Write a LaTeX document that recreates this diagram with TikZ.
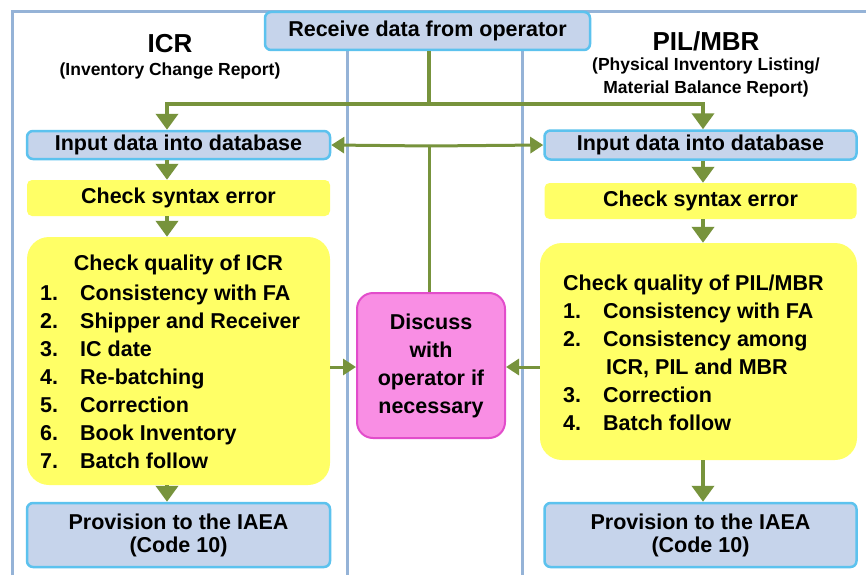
\documentclass[tikz,border=0pt]{standalone}
\usepackage{fontspec}
\setmainfont{Liberation Sans}
\usepackage{xcolor}
\usepackage{tikz}
\usetikzlibrary{arrows.meta,positioning}

\definecolor{framec}{HTML}{95B3D7}
\definecolor{dbfill}{HTML}{C6D4EB}
\definecolor{dbline}{HTML}{5CC2EE}
\definecolor{chkfill}{HTML}{FFFF66}
\definecolor{disfill}{HTML}{F98EE4}
\definecolor{disline}{HTML}{E24DCB}
\definecolor{flowc}{HTML}{77933C}

\newcommand{\txt}{\fontsize{21.5}{28}\selectfont\bfseries}
\newcommand{\itm}[1]{\makebox[40pt][l]{#1}}

\begin{document}
\begin{tikzpicture}[x=1pt,y=-1pt,
		frame/.style={draw=framec,line width=3pt},
		dbbox/.style={draw=dbline,fill=dbfill,line width=2.5pt,rounded corners=6pt,inner sep=0pt,font=\txt,align=center},
		chkbox/.style={fill=chkfill,rounded corners=5pt,inner sep=0pt,font=\txt},
		disbox/.style={draw=disline,fill=disfill,line width=2pt,rounded corners=16pt,inner sep=0pt,font=\txt,align=center},
		flowline/.style={draw=flowc,line width=4.5pt,-{Triangle[width=22pt,length=16pt]}},
		flowthin/.style={draw=flowc,line width=3pt,-{Triangle[width=16pt,length=13pt]}}]
		\useasboundingbox (0,0) rectangle (866,575);
		\fill[white] (0,0) rectangle (866,575);
		% frame of the three columns
		\draw[frame] (12,575) -- (12,12) -- (866,12);
		\draw[frame] (347,40) -- (347,575);
		\draw[frame] (522,40) -- (522,575);
		%
		\node[dbbox,minimum width=325pt,minimum height=38pt] (rcv) at (427.5,31) {Receive data from operator};
		%
		\node[font=\fontsize{26}{30}\selectfont\bfseries] (icr) at (170,44) {ICR};
		\node[font=\fontsize{17.5}{22}\selectfont\bfseries] (icrsub) at (170,71) {(Inventory Change Report)};
		\node[font=\fontsize{26}{30}\selectfont\bfseries] (pil) at (706,41) {PIL/MBR};
		\node[font=\fontsize{17.5}{23}\selectfont\bfseries,align=center] (pilsub) at (706,77) {(Physical Inventory Listing/\\Material Balance Report)};
		%
		\node[dbbox,minimum width=303pt,minimum height=28pt] (inL) at (178.5,145) {Input data into database};
		\node[dbbox,minimum width=312pt,minimum height=29pt] (inR) at (700.5,145) {Input data into database};
		\node[chkbox,minimum width=303pt,minimum height=36pt] (synL) at (178.5,198) {Check syntax error};
		\node[chkbox,minimum width=312pt,minimum height=36pt] (synR) at (700.5,201) {Check syntax error};
		%
		\node[chkbox,rounded corners=22pt,minimum width=303pt,minimum height=248pt] (qL) at (178.5,361) {};
		\node[font=\txt] (qLhead) at (178.5,265) {Check quality of ICR};
		\node[font=\txt,align=left,anchor=north west,inner sep=0pt] (qLlist) at (40,285) {%
			\itm{1.}Consistency with FA\\
			\itm{2.}Shipper and Receiver\\
			\itm{3.}IC date\\
			\itm{4.}Re-batching\\
			\itm{5.}Correction\\
			\itm{6.}Book Inventory\\
			\itm{7.}Batch follow};
		\node[chkbox,rounded corners=22pt,minimum width=317pt,minimum height=217pt] (qR) at (698.5,351.5) {};
		\node[font=\txt,align=left,anchor=north west,inner sep=0pt] (qRlist) at (563,275) {%
			Check quality of PIL/MBR\\
			\itm{1.}Consistency with FA\\
			\itm{2.}Consistency among\\
			\hspace*{43pt}ICR, PIL and MBR\\
			\itm{3.}Correction\\
			\itm{4.}Batch follow};
		%
		\node[disbox,minimum width=148pt,minimum height=145pt] (dis) at (431,365.5) {Discuss\\with\\operator if\\necessary};
		%
		\node[dbbox,minimum width=303pt,minimum height=64pt,font=\fontsize{21.5}{23}\selectfont\bfseries] (pvL) at (178.5,535) {Provision to the IAEA\\(Code 10)};
		\node[dbbox,minimum width=312pt,minimum height=64pt,font=\fontsize{21.5}{23}\selectfont\bfseries] (pvR) at (700.5,535) {Provision to the IAEA\\(Code 10)};
		%
		\coordinate (axL) at (167,0);
		\coordinate (axR) at (703,0);
		\coordinate (split) at (429,104);
		\coordinate (back) at (429,146);
		\coordinate (mid) at (0,367);
		%
		\draw[flowline,-] (rcv.south -| split) -- (split);
		\draw[flowline] (split) -| (inL.north -| axL);
		\draw[flowline] (split) -| (inR.north -| axR);
		\draw[flowthin,-] (dis.north -| back) -- (back);
		\draw[flowthin] (back) -- (inL.east);
		\draw[flowthin] (back) -- (inR.west);
		%
		\draw[flowline] (inL.south -| axL) -- (synL.north -| axL);
		\draw[flowline] (synL.south -| axL) -- (qL.north -| axL);
		\draw[flowline] (qL.south -| axL) -- (pvL.north -| axL);
		\draw[flowline] (inR.south -| axR) -- (synR.north -| axR);
		\draw[flowline] (synR.south -| axR) -- (qR.north -| axR);
		\draw[flowline] (qR.south -| axR) -- (pvR.north -| axR);
		\draw[flowthin] (qL.east |- mid) -- (dis.west |- mid);
		\draw[flowthin] (qR.west |- mid) -- (dis.east |- mid);
	\end{tikzpicture}
\end{document}
